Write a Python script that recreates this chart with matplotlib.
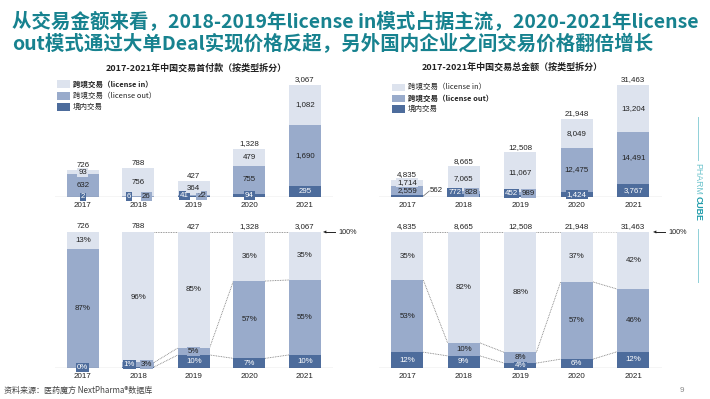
import numpy as np
import matplotlib
matplotlib.use('Agg')
import matplotlib.pyplot as plt
from matplotlib.lines import Line2D
from matplotlib.patches import Rectangle

# ---------------- data ----------------
years = ['2017', '2018', '2019', '2020', '2021']
upfront_domestic = [2, 6, 41, 94, 295]
upfront_out = [632, 26, 22, 755, 1690]
upfront_in = [93, 756, 364, 479, 1082]
upfront_total = [726, 788, 427, 1328, 3067]

amount_domestic = [562, 772, 452, 1424, 3767]
amount_out = [2559, 828, 989, 12475, 14491]
amount_in = [1714, 7065, 11067, 8049, 13204]
amount_total = [4835, 8665, 12508, 21948, 31463]

title_line1 = '从交易金额来看，2018-2019年license in模式占据主流，2020-2021年license'
title_line2 = 'out模式通过大单Deal实现价格反超，另外国内企业之间交易价格翻倍增长'
left_title = '2017-2021年中国交易首付款（按类型拆分）'
right_title = '2017-2021年中国交易总金额（按类型拆分）'
legend_labels = ['跨境交易（license in）', '跨境交易（license out）', '境内交易']
source_text = '资料来源：医药魔方 NextPharma®数据库'
page_no = '9'

# ---------------- style ----------------
C_IN = '#dde3ee'
C_OUT = '#99abcb'
C_DOM = '#4d6c9c'
TEAL = '#17828f'
FAM = ['Liberation Sans', 'Noto Sans CJK SC', 'DejaVu Sans']
CJK = ['Noto Sans CJK SC', 'DejaVu Sans']
plt.rcParams['font.family'] = FAM

W, H = 710, 399
fig = plt.figure(figsize=(W / 100, H / 100), dpi=100)
fig.patch.set_facecolor('white')


def fx(px):
    return px / W


def fy(py):
    return 1 - py / H


BW = 0.57
VAL_FS = 5.7


def make_ax(left, right, top, base):
    ax = fig.add_axes([fx(left), fy(base), (right - left) / W, (base - top) / H])
    ax.set_xlim(-0.5, 4.5)
    for s in ax.spines.values():
        s.set_visible(False)
    ax.set_yticks([])
    ax.set_xticks(range(5))
    ax.set_xticklabels(years, fontsize=5.8, color='#222')
    ax.tick_params(axis='x', length=0, pad=3.5)
    ax.axhline(0, color='#555', lw=0.8, zorder=5)
    ax.patch.set_alpha(0)
    return ax


def thousands(v):
    return f'{v:,}'


def draw(ax, dom, out, inn, totals, pct, conn_start=None):
    x = np.arange(5)
    dom = np.array(dom, float)
    out = np.array(out, float)
    inn = np.array(inn, float)
    tot = np.array(totals, float)
    if pct:
        d, o, n = dom / tot * 100, out / tot * 100, inn / tot * 100
        ax.set_ylim(0, 100)
    else:
        d, o, n = dom, out, inn
        ax.set_ylim(0, tot.max())
    tops = d + o + n
    ax.bar(x, d, BW, color=C_DOM, lw=0, zorder=2)
    ax.bar(x, o, BW, bottom=d, color=C_OUT, lw=0, zorder=2)
    ax.bar(x, n, BW, bottom=d + o, color=C_IN, lw=0, zorder=2)
    y0, y1 = ax.get_ylim()
    hpx = ax.get_position().height * H
    upp = (y1 - y0) / hpx  # units per pixel
    xpx = ax.get_position().width * W / 5.0  # px per x unit

    def lab(v, raw):
        return f'{round(v)}%' if pct else thousands(int(raw))

    def put(xx, yy, txt, fc, tc, ha='center', box=True):
        kw = dict(ha=ha, va='center', fontsize=VAL_FS, color=tc, zorder=6)
        if box:
            kw['bbox'] = dict(boxstyle='square,pad=0.12', fc=fc, ec='none')
        ax.text(xx, yy, txt, **kw)

    for i in range(5):
        hd, ho = d[i] / upp, o[i] / upp
        ld, lo, ln = lab(d[i], dom[i]), lab(o[i], out[i]), lab(n[i], inn[i])
        if hd < 6 and ho < 6:
            yy = d[i] + o[i] / 2
            put(i - 9 / xpx, yy, ld, C_DOM, 'white')
            put(i + 8 / xpx, yy, lo, C_OUT, '#222')
        elif hd < 4 and len(ld) >= 3:
            yt = 6 * upp
            ax.plot([i + BW / 2, i + BW / 2 + 6 / xpx], [d[i] / 2, yt],
                    color='#666', lw=0.5, zorder=6)
            put(i + BW / 2 + 6.5 / xpx, yt, ld, 'white', '#222', ha='left', box=False)
            put(i, d[i] + o[i] / 2, lo, C_OUT, '#222')
        else:
            put(i, d[i] / 2, ld, C_DOM, 'white')
            put(i, d[i] + o[i] / 2, lo, C_OUT, '#222')
        put(i, d[i] + o[i] + n[i] / 2, ln, C_IN, '#222')
        ax.text(i, tops[i] + 1.5 * upp, thousands(int(tot[i])), ha='center', va='bottom',
                fontsize=VAL_FS, color='#222', zorder=6)
    if conn_start is not None:
        levels = [d, d + o, tops]
        for i in range(conn_start, 4):
            for lv in levels:
                ax.plot([i + BW / 2, i + 1 - BW / 2], [lv[i], lv[i + 1]],
                        color='#777', lw=0.6, ls=(0, (1, 1)), zorder=1)


ax_tl = make_ax(55, 332.5, 85, 197)
draw(ax_tl, upfront_domestic, upfront_out, upfront_in, upfront_total, False)
ax_tr = make_ax(379, 661.5, 85, 197)
draw(ax_tr, amount_domestic, amount_out, amount_in, amount_total, False)
ax_bl = make_ax(55, 332.5, 232, 368)
draw(ax_bl, upfront_domestic, upfront_out, upfront_in, upfront_total, True, conn_start=1)
ax_br = make_ax(379, 661.5, 232, 368)
draw(ax_br, amount_domestic, amount_out, amount_in, amount_total, True, conn_start=0)

# 100% arrows
for a0, a1 in [(335, 323), (665, 653)]:
    fig.add_artist(Line2D([fx(a0), fx(a1 + 3)], [fy(232), fy(232)], color='#222', lw=0.7))
    fig.text(fx(a1 + 3.5), fy(232), '◀', fontsize=3.2, ha='right', va='center',
             color='#222', family=['DejaVu Sans'])
    fig.text(fx(a0 + 3), fy(232), '100%', fontsize=5.2, ha='left', va='center', color='#222')

# chart subtitles
fig.text(fx(196), fy(68), left_title, fontsize=6.5, fontweight='bold', ha='center',
         va='center', color='#222', family=CJK)
fig.text(fx(512), fy(67), right_title, fontsize=6.5, fontweight='bold', ha='center',
         va='center', color='#222', family=CJK)

# legends
colors = [C_IN, C_OUT, C_DOM]


def legend(x0, ys, bold_idx):
    for k, (lbl, c, yy) in enumerate(zip(legend_labels, colors, ys)):
        fig.add_artist(Rectangle((fx(x0), fy(yy + 3.5)), 13 / W, 7 / H, transform=fig.transFigure,
                                 fc=c, ec='none'))
        fig.text(fx(x0 + 16), fy(yy), lbl, fontsize=5.4, ha='left', va='center', color='#222',
                 fontweight='bold' if k == bold_idx else 'normal', family=CJK)


legend(57, [84, 96, 107], 0)
legend(392, [87, 98, 109], 1)

# main title
fig.text(fx(12), fy(21), title_line1, fontsize=14, fontweight='bold', ha='left', va='center',
         color=TEAL, family=CJK)
fig.text(fx(12), fy(44), title_line2, fontsize=14, fontweight='bold', ha='left', va='center',
         color=TEAL, family=CJK)

# brand at right
fig.add_artist(Line2D([fx(698), fx(698)], [fy(117), fy(160)], color='#8fd0d8', lw=0.7))
fig.add_artist(Line2D([fx(698), fx(698)], [fy(229), fy(282)], color='#8fd0d8', lw=0.7))
fig.text(fx(698), fy(163), 'PHARM', rotation=-90, fontsize=6.3, ha='center', va='top',
         color='#6cc3cc', family=['Liberation Sans'])
fig.text(fx(698), fy(196), 'CUBE', rotation=-90, fontsize=6.3, ha='center', va='top',
         color='#1a9aa8', fontweight='bold', family=['Liberation Sans'])

# footer
fig.text(fx(4), fy(390), source_text, fontsize=5.8, ha='left', va='center', color='#444',
         family=CJK)
fig.text(fx(682), fy(390), page_no, fontsize=5.8, ha='center', va='center', color='#888')

fig.savefig('out.png', dpi=100, facecolor='white')
